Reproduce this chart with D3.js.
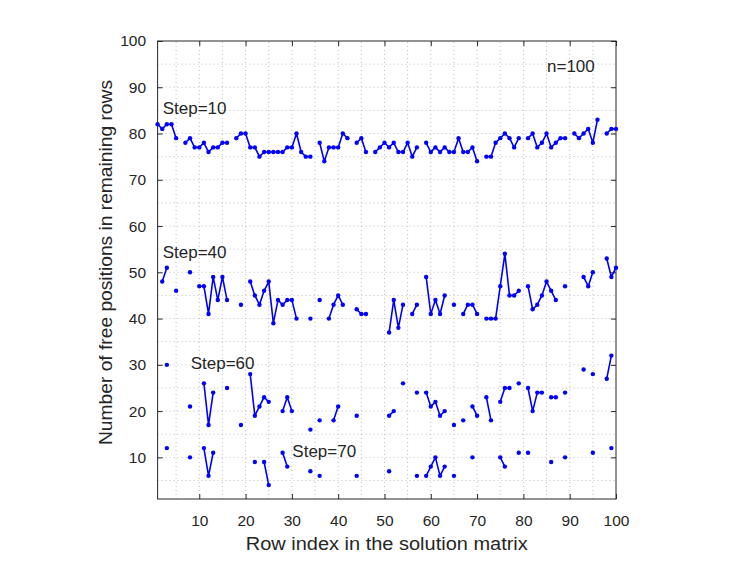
<!DOCTYPE html>
<html>
<head>
<meta charset="utf-8">
<script src="https://cdn.jsdelivr.net/npm/d3@7"></script>
<style>
  body { margin: 0; background: #fff; }
  text { font-family: "Liberation Sans", Arial, sans-serif; fill: #262626; }
</style>
</head>
<body>
<div id="chart"></div>
<script>
/**
 * DATA (row index 1..100, null = no value)
 * */
const step10 = [
  82, 81, 82, 82, 79, null, 78, 79, 77, 77,
  78, 76, 77, 77, 78, 78, null, 79, 80, 80,
  77, 77, 75, 76, 76, 76, 76, 76, 77, 77,
  80, 76, 75, 75, null, 78, 74, 77, 77, 77,
  80, 79, null, 78, 79, 76, null, 76, 77, 78,
  77, 78, 76, 76, 78, 75, 77, null, 78, 76,
  77, 76, 77, 76, 76, 79, 76, 76, 77, 74,
  null, 75, 75, 78, 79, 80, 79, 77, 79, null,
  79, 80, 77, 78, 80, 77, 78, 79, 79, null,
  80, 79, 80, 81, 78, 83, null, 80, 81, 81
];
const step40 = [
  null, 48, 51, null, 46, null, null, 50, null, 47,
  47, 41, 49, 44, 49, 44, null, null, 43, null,
  48, 45, 43, 46, 48, 39, 44, 43, 44, 44,
  40, null, null, 40, null, 44, null, 40, 43, 45,
  43, null, null, 42, 41, 41, null, null, null, null,
  37, 44, 38, 43, null, 41, 43, null, 49, 41,
  44, 41, 45, null, 43, null, 41, 43, 43, 41,
  null, 40, 40, 40, 47, 54, 45, 45, 46, null,
  47, 42, 43, 45, 48, 46, 44, null, 47, null,
  null, null, 49, 47, 50, null, null, 53, 49, 51
];
const step60 = [
  null, null, 30, null, null, null, null, 21, null, null,
  26, 17, 24, null, null, 25, null, null, 17, null,
  28, 19, 21, 23, 22, null, null, 20, 23, 20,
  null, null, null, 16, null, 18, null, null, 18, 21,
  null, null, null, 19, null, null, null, null, null, null,
  19, 20, null, 26, null, null, 24, null, 24, 21,
  22, 19, 20, null, 17, null, 18, null, 21, 19,
  null, 23, 18, null, 22, 25, 25, null, 26, null,
  25, 20, 24, 24, null, 23, 23, null, 24, null,
  null, null, 29, null, 28, null, null, 27, 32, null
];
const step70 = [
  null, null, 12, null, null, null, null, 10, null, null,
  12, 6, 11, null, null, null, null, null, null, null,
  null, 9, null, 9, 4, null, null, 11, 8, null,
  null, null, null, 7, null, 6, null, null, null, null,
  null, null, null, 6, null, null, null, null, null, null,
  7, null, null, null, null, null, 6, null, 6, 8,
  10, 6, 8, null, 6, null, null, null, 10, null,
  null, null, null, null, 10, 8, null, null, 11, null,
  11, null, null, null, null, 9, null, null, 10, null,
  null, null, null, null, 11, null, null, null, 12, null
];

const seriesList = [step10, step40, step60, step70];

// annotation text and where it sits (data coords)
const labelTexts = ["Step=10", "Step=40", "Step=60", "Step=70", "n=100"];
const labelX = [2.1, 2.1, 8.15, 30.1, 85.1];
const labelY = [84.2, 53.0, 29.2, 10.1, 93.3];

const xTicks = [10, 20, 30, 40, 50, 60, 70, 80, 90, 100];
const yTicks = [10, 20, 30, 40, 50, 60, 70, 80, 90, 100];
const gridValues = [5, 10, 15, 20, 25, 30, 35, 40, 45, 50, 55, 60, 65, 70, 75, 80, 85, 90, 95];

/**
 * CONSTANTS
 * */
const width = 747,
  height = 561,
  margin = { top: 41, right: 131, bottom: 62, left: 157.6 };
const blue = "#0000ff";

const svg = d3.select("#chart")
  .append("svg")
  .attr("width", width)
  .attr("height", height);

const xScale = d3.scaleLinear().domain([1, 100]).range([margin.left, width - margin.right]);
const yScale = d3.scaleLinear().domain([1, 100]).range([height - margin.bottom, margin.top]);

// grid (dotted, every 5)
const grid = svg.append("g")
  .attr("stroke", "#bfbfbf")
  .attr("stroke-width", 1)
  .attr("stroke-dasharray", "1,3");

grid.selectAll("line.gx")
  .data(gridValues)
  .join("line")
  .attr("class", "gx")
  .attr("x1", d => xScale(d)).attr("x2", d => xScale(d))
  .attr("y1", yScale(1)).attr("y2", yScale(100));

grid.selectAll("line.gy")
  .data(gridValues)
  .join("line")
  .attr("class", "gy")
  .attr("y1", d => yScale(d)).attr("y2", d => yScale(d))
  .attr("x1", xScale(1)).attr("x2", xScale(100));

// axes (ticks inward, box drawn separately)
const xAxis = svg.append("g")
  .attr("transform", `translate(0,${yScale(1)})`)
  .call(d3.axisBottom(xScale).tickValues(xTicks).tickSizeInner(-5).tickSizeOuter(0).tickPadding(16));
const yAxis = svg.append("g")
  .attr("transform", `translate(${xScale(1)},0)`)
  .call(d3.axisLeft(yScale).tickValues(yTicks).tickSizeInner(-5).tickSizeOuter(0).tickPadding(11.5));
const xTop = svg.append("g")
  .attr("transform", `translate(0,${yScale(100)})`)
  .call(d3.axisTop(xScale).tickValues(xTicks).tickSizeInner(-5).tickSizeOuter(0).tickFormat(""));
const yRight = svg.append("g")
  .attr("transform", `translate(${xScale(100)},0)`)
  .call(d3.axisRight(yScale).tickValues(yTicks).tickSizeInner(-5).tickSizeOuter(0).tickFormat(""));

[xAxis, yAxis, xTop, yRight].forEach(a => {
  a.select(".domain").remove();
  a.selectAll(".tick line").attr("stroke", "#262626");
  a.selectAll(".tick text")
    .style("font-family", '"Liberation Sans", Arial, sans-serif')
    .style("font-size", "15.5px")
    .attr("fill", "#262626");
});

svg.append("rect")
  .attr("x", xScale(1))
  .attr("y", yScale(100))
  .attr("width", xScale(100) - xScale(1))
  .attr("height", yScale(1) - yScale(100))
  .attr("fill", "none")
  .attr("stroke", "#262626")
  .attr("stroke-width", 1);

// series
const line = d3.line()
  .defined(d => d.v != null)
  .x(d => xScale(d.i))
  .y(d => yScale(d.v));

seriesList.forEach(values => {
  const pts = values.map((v, k) => ({ i: k + 1, v: v }));

  svg.append("path")
    .datum(pts)
    .attr("fill", "none")
    .attr("stroke", blue)
    .attr("stroke-width", 1.6)
    .attr("stroke-linejoin", "round")
    .attr("d", line);

  svg.append("g")
    .selectAll("circle")
    .data(pts.filter(d => d.v != null))
    .join("circle")
    .attr("cx", d => xScale(d.i))
    .attr("cy", d => yScale(d.v))
    .attr("r", 2.2)
    .attr("fill", blue);
});

// annotations
svg.append("g")
  .selectAll("text")
  .data(labelTexts)
  .join("text")
  .attr("x", (d, k) => xScale(labelX[k]))
  .attr("y", (d, k) => yScale(labelY[k]))
  .style("font-size", "17px")
  .text(d => d);

// axis labels
svg.append("text")
  .attr("x", (xScale(1) + xScale(100)) / 2)
  .attr("y", 550)
  .attr("text-anchor", "middle")
  .attr("textLength", 282)
  .attr("lengthAdjust", "spacingAndGlyphs")
  .style("font-size", "17.5px")
  .text("Row index in the solution matrix");

svg.append("text")
  .attr("transform", `translate(112,${(80 + 445) / 2}) rotate(-90)`)
  .attr("text-anchor", "middle")
  .attr("textLength", 365)
  .attr("lengthAdjust", "spacingAndGlyphs")
  .style("font-size", "17.5px")
  .text("Number of free positions in remaining rows");
</script>
</body>
</html>
